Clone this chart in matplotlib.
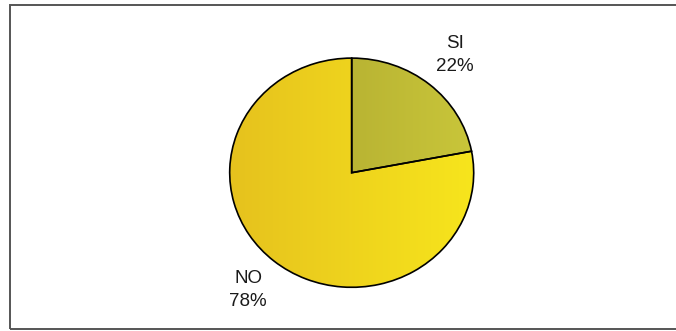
import matplotlib.pyplot as plt
import numpy as np
from matplotlib.colors import LinearSegmentedColormap
from matplotlib.patches import Rectangle

# datos
categorias = ["SI", "NO"]
porcentajes = [22, 78]
colores = [("#a9a22c", "#c9c63a"), ("#e6c21e", "#f7e51c")]

plt.rcParams['font.family'] = ['Liberation Sans', 'DejaVu Sans']

fig = plt.figure(figsize=(6.76, 3.31), dpi=100)
W, H = 676, 331

# marco (el lado derecho queda fuera de la imagen)
fig.patches.append(Rectangle((10 / W, 2 / H), 900 / W, 324 / H, transform=fig.transFigure,
                             fill=False, edgecolor="#555555", linewidth=1.4))

# ejes: un poco mas anchos que altos (pie levemente eliptico)
cx, cy = 351.7, 331 - 172.7
rx, ry = 122, 114.6
lim = 1.5
ax = fig.add_axes([(cx - lim * rx) / W, (cy - lim * ry) / H, 2 * lim * rx / W, 2 * lim * ry / H])

etiquetas = [f"{c}\n{p}%" for c, p in zip(categorias, porcentajes)]
wedges, textos = ax.pie(porcentajes, labels=etiquetas, startangle=90, counterclock=False,
                        labeldistance=1.33,
                        wedgeprops=dict(edgecolor="black", linewidth=1.2),
                        textprops=dict(ha="center", va="center", fontsize=13.5,
                                       color="#1a1a1a", linespacing=1.45))

# relleno degradado
gx = np.linspace(0, 1, 200)
grad = np.tile(gx, (200, 1))
for w, (c1, c2) in zip(wedges, colores):
    cmap = LinearSegmentedColormap.from_list("g", [c1, c2])
    im = ax.imshow(grad, extent=(-1, 1, -1, 1), cmap=cmap, aspect="auto", zorder=0.5)
    im.set_clip_path(w)
    w.set_facecolor("none")
    w.set_zorder(1)

ax.set_aspect("auto")
ax.set_xlim(-lim, lim)
ax.set_ylim(-lim, lim)
ax.axis("off")

fig.savefig("out.png", dpi=100)
